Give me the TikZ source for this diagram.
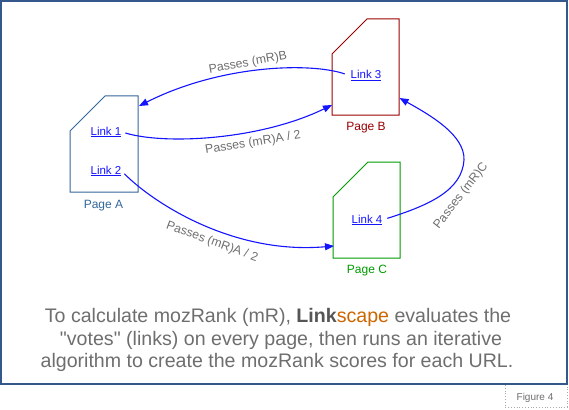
\documentclass[tikz,border=0pt]{standalone}
\usepackage{fontspec}
\setmainfont{Liberation Sans}
\newfontfamily\capfont{Liberation Sans}
\usetikzlibrary{arrows.meta}
\definecolor{framec}{RGB}{52,88,140}
\definecolor{pagea}{RGB}{51,102,153}
\definecolor{pageb}{RGB}{153,0,0}
\definecolor{pagec}{RGB}{0,153,0}
\definecolor{linkc}{RGB}{20,20,255}
\definecolor{txtgray}{RGB}{110,110,110}
\definecolor{boldgray}{RGB}{85,85,85}
\definecolor{scapec}{RGB}{204,102,0}
\definecolor{figbox}{RGB}{170,170,170}
\begin{document}
\begin{tikzpicture}[x=1pt,y=-1pt,
  pageshape/.style={line width=1pt},
  linktext/.style={text=linkc, font=\fontsize{11.5}{13}\selectfont, inner sep=0pt, anchor=base},
  pagelabel/.style={font=\fontsize{12}{14}\selectfont, inner sep=0pt, anchor=base},
  passes/.style={text=txtgray, font=\fontsize{12.3}{14}\selectfont, inner sep=0pt},
  flow/.style={draw=linkc, line width=1.1pt, -{Triangle[length=9pt,width=7pt]}},
  captext/.style={text=txtgray, font=\capfont\fontsize{19.6}{23}\selectfont, inner sep=0pt, anchor=base}]
\useasboundingbox (0,0) rectangle (569,409);
% frame
\draw[framec, line width=1.5pt] (1,1) rectangle (567,384);
\draw[figbox, dotted, line width=0.8pt] (505,385) -- (505,407) -- (567,407) -- (567,385);
\node[text=txtgray, font=\fontsize{10}{12}\selectfont, inner sep=0pt, anchor=base] (fig) at (535,400) {Figure 4};
% pages
\draw[pageshape, pagea] (70,131) -- (105,96) -- (138,96) -- (138,192) -- (70,192) -- cycle;
\draw[pageshape, pageb] (332,54) -- (367,19) -- (399,19) -- (399,115) -- (332,115) -- cycle;
\draw[pageshape, pagec] (333,197) -- (368,162) -- (400,162) -- (400,258) -- (333,258) -- cycle;
\node[pagelabel, text=pagea] (la) at (103.5,208) {Page A};
\node[pagelabel, text=pageb] (lb) at (366,130.5) {Page B};
\node[pagelabel, text=pagec] (lc) at (367,273) {Page C};
% arrow targets
\coordinate (pAin) at (139,106);
\coordinate (pBinL) at (332,105);
\coordinate (pBinR) at (399.5,98);
\coordinate (pCin) at (334,246);
% links
\node[linktext] (l1) at (106,135) {\underline{Link 1}};
\node[linktext] (l2) at (106,174) {\underline{Link 2}};
\node[linktext] (l3) at (366,79) {\underline{Link 3}};
\node[linktext] (l4) at (367,223) {\underline{Link 4}};
% connectors
\draw[flow, shorten <=6pt] (l3.west) .. controls (310,62) and (220,65) .. (pAin);
\draw[flow, shorten <=4pt] (l1.east) .. controls (165,145) and (260,140) .. (pBinL);
\draw[flow, shorten <=4pt] (l2.east) .. controls (150,200) and (230,255) .. (pCin);
\draw[flow, shorten <=5pt] (l4.east) .. controls (430,205) and (462,190) .. (464,160) .. controls (465,135) and (430,115) .. (pBinR);
% labels
\node[passes, rotate=10] (p1) at (248,63) {Passes (mR)B};
\node[passes, rotate=9] (p2) at (253,143) {Passes (mR)A / 2};
\node[passes, rotate=-20] (p3) at (212,242) {Passes (mR)A / 2};
\node[passes, rotate=52] (p4) at (461,196) {Passes (mR)C};
% caption
\node[captext] (c1) at (278,322) {To calculate mozRank (mR), {\bfseries\color{boldgray}Link}{\color{scapec}scape} evaluates the};
\node[captext] (c2) at (281,345) {"votes" (links) on every page, then runs an iterative};
\node[captext] (c3) at (277,367) {algorithm to create the mozRank scores for each URL.};
\end{tikzpicture}
\end{document}
